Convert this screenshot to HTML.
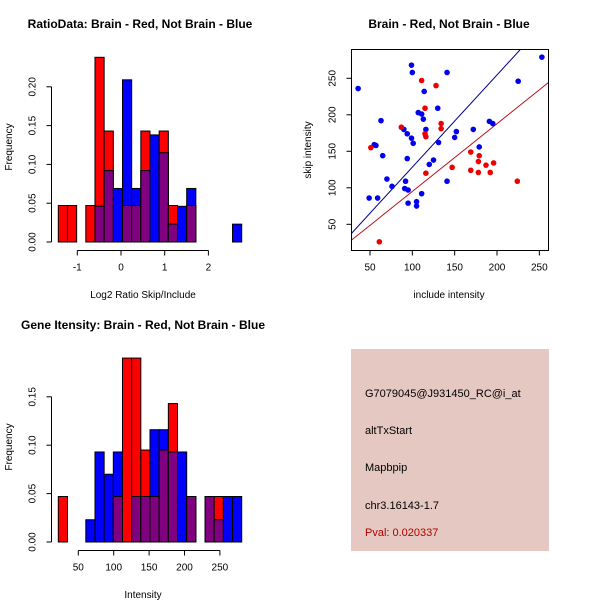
<!DOCTYPE html>
<html><head><meta charset="utf-8"><style>
body{margin:0;background:#fff}
svg{display:block;font-family:"Liberation Sans",sans-serif}
</style></head><body>
<svg id="c" width="600" height="600" xmlns="http://www.w3.org/2000/svg">
<rect width="600" height="600" fill="#fff"/>
<text x="140" y="28" font-size="12" font-weight="bold" text-anchor="middle">RatioData: Brain - Red, Not Brain - Blue</text>
<text x="143" y="298" font-size="10" text-anchor="middle">Log2 Ratio Skip/Include</text>
<text transform="translate(12,147) rotate(-90)" font-size="10" text-anchor="middle">Frequency</text>
<text x="143" y="329" font-size="12" font-weight="bold" text-anchor="middle">Gene Itensity: Brain - Red, Not Brain - Blue</text>
<text x="143" y="598" font-size="10" text-anchor="middle">Intensity</text>
<text transform="translate(12,447) rotate(-90)" font-size="10" text-anchor="middle">Frequency</text>
<text x="449" y="28" font-size="12" font-weight="bold" text-anchor="middle">Brain - Red, Not Brain - Blue</text>
<text x="449" y="298" font-size="10" text-anchor="middle">include intensity</text>
<text transform="translate(311,150) rotate(-90)" font-size="10" text-anchor="middle">skip intensity</text>
<g>
<rect x="351" y="349" width="198" height="202" fill="#e5c8c1"/>
<text x="365" y="397" font-size="11">G7079045@J931450_RC@i_at</text>
<text x="365" y="434" font-size="11">altTxStart</text>
<text x="365" y="471" font-size="11">Mapbpip</text>
<text x="365" y="509" font-size="11">chr3.16143-1.7</text>
<text x="365" y="536" font-size="11" fill="#b00000">Pval: 0.020337</text>
</g>
<defs><clipPath id="clp"><rect x="351.5" y="49.5" width="197" height="201"/></clipPath></defs>
</svg>
<script>
// ---- data ----
const ratioBins = [0,1,2,3,4,5,6,7,8,9,10,11,12,13,14,15,16,17,18,19];
const ratioRed  = [0.047,0.047,0,0.047,0.238,0.143,0,0.047,0.047,0.143,0,0.143,0.047,0,0.047,0,0,0,0,0];
const ratioBlue = [0,0,0,0,0.046,0.092,0.069,0.209,0.069,0.092,0.138,0.115,0.023,0.046,0.069,0,0,0,0,0.023];
const ratioYTicks = [0,0.05,0.10,0.15,0.20];
const ratioYLabels = ["0.00","0.05","0.10","0.15","0.20"];
const ratioXTicks = [-1,0,1,2];
const intBins = [0,1,2,3,4,5,6,7,8,9,10,11,12,13,14,15,16,17,18,19];
const intRed  = [0.047,0,0,0,0,0,0.047,0.19,0.19,0.095,0.047,0.095,0.143,0,0.047,0,0.047,0.047,0,0];
const intBlue = [0,0,0,0.023,0.093,0.070,0.093,0,0.047,0.047,0.116,0.116,0.093,0.093,0.047,0,0.047,0.023,0.047,0.047];
const intYTicks = [0,0.05,0.10,0.15];
const intYLabels = ["0.00","0.05","0.10","0.15"];
const intXTicks = [50,100,150,200,250];
const blueX = [36,49,55,57,59,63,65,70,76,90,91,92,94,94,95,95,99,100,99,101,107,111,111,113,114,116,105,105,120,125,130,131,141,141,150,152,172,179,191,195,225,253];
const blueY = [236,86,159,158,86,192,144,112,102,180,99,109,174,140,97,79,268,258,168,161,203,201,92,194,232,180,81,75,132,138,209,162,258,109,169,177,180,156,191,188,246,279];
const redX = [51,87,111,115,115,116,116,128,134,134,147,169,169,179,178,178,187,192,196,224,61];
const redY = [155,183,247,209,174,170,120,240,188,181,128,149,124,144,136,121,131,121,134,109,26];
const blueFit = [2.0,1.263];   // intercept, slope
const redFit = [2.2,0.928];
const scatterXTicks = [50,100,150,200,250];
const scatterYTicks = [50,100,150,200,250];

const svg = document.getElementById('c');
const NS = 'http://www.w3.org/2000/svg';
function mk(tag, attrs, parent){const e=document.createElementNS(NS,tag);for(const k in attrs)e.setAttribute(k,attrs[k]);(parent||svg).appendChild(e);return e;}

function hist(name, bins, red, blue, x0, bw, yBase, yPerUnit, yTicks, yLabels, xTicks, xScale, xAxisY){
  const g = mk('g',{});
  
  
  const ys = v => yBase - v*yPerUnit;
  bins.forEach((b,i)=>{
    const x = x0 + b*bw;
    const draw=(v,col,nm)=>{ if(v<=0) return;
      const r = mk('rect',{x:x,y:ys(v),width:bw,height:v*yPerUnit,fill:col,stroke:'#000','stroke-width':1},g);
      
      
    };
    draw(red[i],'#ff0000','bar-red');
    draw(blue[i],'#0000ff','bar-blue');
    draw(Math.min(red[i],blue[i]),'#800080','bar-overlap');
  });
  const ax = mk('g',{stroke:'#000','stroke-width':1,fill:'none'},g);
  
  
  const axX = 51.5;
  mk('line',{x1:axX,x2:axX,y1:ys(yTicks[0]),y2:ys(yTicks[yTicks.length-1])},ax);
  yTicks.forEach((t,i)=>{
    mk('line',{x1:axX-5,x2:axX,y1:ys(t),y2:ys(t)},ax);
    const tx = mk('text',{transform:`translate(${axX-16},${ys(t)}) rotate(-90)`,'font-size':10,'text-anchor':'middle',fill:'#000',stroke:'none'},g);
    tx.textContent = yLabels[i];
    
    
  });
  const xa = mk('g',{stroke:'#000','stroke-width':1},g);
  
  
  mk('line',{x1:xScale(xTicks[0]),x2:xScale(xTicks[xTicks.length-1]),y1:xAxisY,y2:xAxisY},xa);
  xTicks.forEach(t=>{
    mk('line',{x1:xScale(t),x2:xScale(t),y1:xAxisY,y2:xAxisY+5},xa);
    const tx = mk('text',{x:xScale(t),y:xAxisY+20,'font-size':10,'text-anchor':'middle',stroke:'none'},g);
    tx.textContent = String(t);
    
    
  });
}
hist('ratio-histogram', ratioBins, ratioRed, ratioBlue, 58.3, 9.17, 242, 776, ratioYTicks, ratioYLabels, ratioXTicks, v=>121+v*43.7, 250.5);
hist('intensity-histogram', intBins, intRed, intBlue, 58.3, 9.17, 542, 968, intYTicks, intYLabels, intXTicks, v=>78.3+(v-50)*0.708, 550.5);

// scatter
const sx = v => 370 + (v-50)*0.8467;
const sy = v => 224.3 - (v-50)*0.73;
const L=351.5,R=548.5,T=49.5,B=250.5;
const sg = mk('g',{});


function fit(p,col,nm){
  const xa=(L-370)/0.8467+50, xb=(R-370)/0.8467+50;
  const l = mk('line',{x1:sx(xa),y1:sy(p[0]+p[1]*xa),x2:sx(xb),y2:sy(p[0]+p[1]*xb),stroke:col,'stroke-width':1,'clip-path':'url(#clp)'},sg);
  
  
}
fit(blueFit,'#00008b','blue-fit-line');
fit(redFit,'#b0141e','red-fit-line');
blueX.forEach((x,i)=>{
  const c = mk('circle',{cx:sx(x),cy:sy(blueY[i]),r:2.8,fill:'#0000ee'},sg);
  
  
});
redX.forEach((x,i)=>{
  const c = mk('circle',{cx:sx(x),cy:sy(redY[i]),r:2.8,fill:'#ee0000'},sg);
  
  
});
const box = mk('rect',{x:L,y:T,width:R-L,height:B-T,fill:'none',stroke:'#000'},sg);


scatterXTicks.forEach(t=>{
  mk('line',{x1:sx(t),x2:sx(t),y1:B,y2:B+5,stroke:'#000'},sg);
  const tx = mk('text',{x:sx(t),y:B+20,'font-size':10,'text-anchor':'middle'},sg);
  tx.textContent=String(t);
  
  
});
scatterYTicks.forEach(t=>{
  mk('line',{x1:L-5,x2:L,y1:sy(t),y2:sy(t),stroke:'#000'},sg);
  const tx = mk('text',{transform:`translate(${L-16},${sy(t)}) rotate(-90)`,'font-size':10,'text-anchor':'middle'},sg);
  tx.textContent=String(t);
  
  
});
</script>
</body></html>
